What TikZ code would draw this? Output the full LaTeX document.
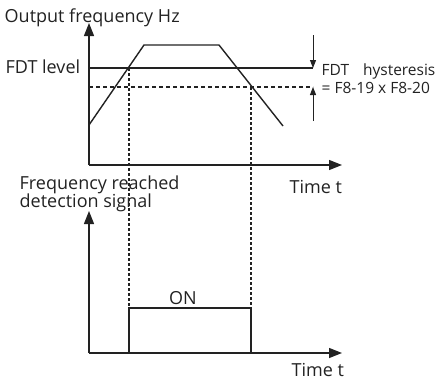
\documentclass[tikz,border=0pt]{standalone}
\usepackage{fontspec}
\setmainfont{Open Sans}
\usetikzlibrary{arrows.meta}
\definecolor{ink}{HTML}{222222}

\begin{document}
\begin{tikzpicture}[x=1pt,y=-1pt,line width=1.4pt,draw=ink,
  axis/.style={-{Triangle[length=13pt,width=10pt]}},
  hyst/.style={-{Triangle[length=8pt,width=6pt]},line width=1pt},
  lbl/.style={anchor=base west,text=ink,inner sep=0pt,font=\fontsize{18}{20}\selectfont},
  lblsmall/.style={lbl,font=\fontsize{15.5}{17}\selectfont},
  dots/.style={line width=1.1pt,dash pattern=on 2.5pt off 2.5pt}]
\useasboundingbox (0,0) rectangle (436,380);
\coordinate (o1) at (89,165);
\coordinate (o2) at (89,353);
\draw[axis] (o1) -- (89,23);
\draw[axis] (o1) -- (342,165);
\draw[axis] (o2) -- (89,211);
\draw[axis] (o2) -- (342,353);
\draw (89,125) -- (144,45) -- (219,45) -- (283,126);
\draw (89,68) -- (313,68);
\draw[line width=1.1pt,dash pattern=on 4pt off 3pt] (89,87) -- (313,87);
\draw[dots] (129,68) -- (129,308);
\draw[dots] (251,87) -- (251,308);
\draw (129,353) -- (129,308) -- (251,308) -- (251,353);
\draw[hyst] (313,35) -- (313,68);
\draw[hyst] (313,121) -- (313,87);
\node[lbl] (yname) at (4,23) {Output frequency Hz};
\node[lbl] (fdt) at (5,73) {FDT level};
\node[lblsmall] (hys) at (321,75) {FDT\hspace{0.9em}hysteresis};
\node[lblsmall] (hyseq) at (321,93) {= F8-19 x F8-20};
\node[lbl] (tone) at (289,193) {Time t};
\node[lbl] (sig) at (19,189) {Frequency reached};
\node[lbl] (sigb) at (19,207) {detection signal};
\node[lbl,anchor=base] (on) at (183,304) {ON};
\node[lbl] (ttwo) at (291,376) {Time t};
\end{tikzpicture}
\end{document}
